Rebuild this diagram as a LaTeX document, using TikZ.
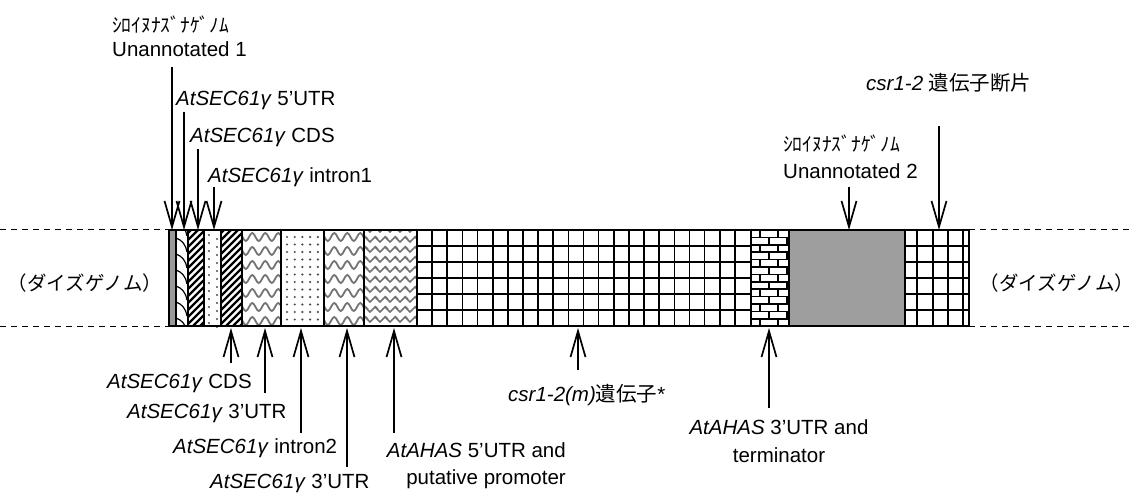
\documentclass[tikz,border=0pt]{standalone}
\usepackage{fontspec}
\setmainfont{Liberation Sans}
\newfontfamily\jpfont{Noto Sans CJK JP}
\usetikzlibrary{arrows.meta}

\begin{document}
\begin{tikzpicture}[x=1pt, y=-1pt,
  font=\fontsize{20.5}{24}\selectfont,
  lbl/.style={inner sep=0pt, anchor=west},
  arr/.style={-{Straight Barb[length=26pt, width=15pt]}, line width=1.7pt},
  segline/.style={line width=2.2pt},
  gridline/.style={line width=1.6pt},
  wave/.style={draw=black!55, line width=1.8pt},
  genome/.style={dashed, dash pattern=on 6pt off 5pt, line width=1pt}
]
\useasboundingbox (0,0) rectangle (1134,494);

% host genome flanks
\draw[genome] (0,230) -- (169,230);
\draw[genome] (0,326) -- (169,326);
\draw[genome] (969,230) -- (1134,230);
\draw[genome] (969,326) -- (1134,326);
\node[inner sep=0pt, font=\jpfont\fontsize{19.5}{22}\selectfont] (soyL) at (85,283) {（ダイズゲノム）};
\node[inner sep=0pt, font=\jpfont\fontsize{19.5}{22}\selectfont] (soyR) at (1057,283) {（ダイズゲノム）};

% segment fills
\fill[black!40] (169,230) rectangle (176,326);
\begin{scope}
  \clip (176,230) rectangle (188,326);
  \foreach \y in {222,238,...,326}
    \draw[line width=1.2pt] (176,\y) .. controls (182,\y+2) and (186,\y+7) .. (187,\y+14);
\end{scope}
\begin{scope}
  \clip (188,230) rectangle (204,326);
  \foreach \k in {0,...,18}
    \draw[line width=2.3pt] (88+\k*7,326) -- ++(100,-100);
\end{scope}
\foreach \y in {235,243,...,323} {
  \fill[black!70] (209,\y) circle (1.2);
  \fill[black!70] (217,\y+4) circle (1.2);
}
\begin{scope}
  \clip (221,230) rectangle (242,326);
  \foreach \k in {0,...,20}
    \draw[line width=2.3pt] (121+\k*7,326) -- ++(100,-100);
\end{scope}
\begin{scope}
  \clip (242,230) rectangle (281,326);
  \foreach \y in {237,251,...,326}
    \draw[wave] (236,\y) \foreach \i in {1,...,4} { sin ++(3.25,-4) cos ++(3.25,4) sin ++(3.25,4) cos ++(3.25,-4) };
\end{scope}
\foreach \x in {287,294.7,...,320}
  \foreach \y in {237,244.5,...,324}
    \fill[black!70] (\x,\y) circle (1.2);
\begin{scope}
  \clip (324,230) rectangle (364,326);
  \foreach \y in {237,251,...,326}
    \draw[wave] (318,\y) \foreach \i in {1,...,4} { sin ++(3.25,-4) cos ++(3.25,4) sin ++(3.25,4) cos ++(3.25,-4) };
\end{scope}
\begin{scope}
  \clip (364,230) rectangle (417,326);
  \foreach \y in {232,242,...,332}
    \draw[black!55, line width=1.6pt] (360,\y) \foreach \i in {1,...,6} { -- ++(5,-5) -- ++(5,5) };
  \foreach \y in {236,246,...,332}
    \draw[black!55, line width=1.2pt] (365,\y) \foreach \i in {1,...,6} { -- ++(3,3) ++(7,-3) };
\end{scope}
\foreach \i in {1,...,21}
  \draw[gridline] (417+\i*15.14,230) -- (417+\i*15.14,326);
\foreach \j in {1,...,5}
  \draw[gridline] (417,230+\j*16) -- (751,230+\j*16);
\begin{scope}
  \clip (751,230) rectangle (789,326);
  \foreach \j in {1,...,12}
    \draw[gridline] (751,230+\j*7.4) -- (789,230+\j*7.4);
  \foreach \j in {0,2,...,12} {
    \draw[gridline] (760,230+\j*7.4) -- ++(0,7.4);
    \draw[gridline] (778,230+\j*7.4) -- ++(0,7.4);
  }
  \foreach \j in {1,3,...,11} {
    \draw[gridline] (769,230+\j*7.4) -- ++(0,7.4);
    \draw[gridline] (787,230+\j*7.4) -- ++(0,7.4);
  }
\end{scope}
\fill[black!38] (789,230) rectangle (905,326);
\foreach \x in {917,933,948,963}
  \draw[gridline] (\x,230) -- (\x,326);
\foreach \j in {1,...,5}
  \draw[gridline] (905,230+\j*16) -- (969,230+\j*16);

% segment borders
\foreach \x in {176,188,204,221,242,281,324,364,417,751,789,905}
  \draw[segline] (\x,230) -- (\x,326);
\draw[segline] (169,230) rectangle (969,326);

% labels above
\node[lbl, font=\jpfont\fontsize{19.5}{22}\selectfont] (kanaA) at (112,25) {ｼﾛｲﾇﾅｽﾞﾅｹﾞﾉﾑ};
\node[lbl] (unA) at (112,49) {Unannotated 1};
\node[lbl] (utr5) at (176,100) {\textit{AtSEC61γ} 5’UTR};
\node[lbl] (cdsA) at (190,137) {\textit{AtSEC61γ} CDS};
\node[lbl] (int1) at (208,177) {\textit{AtSEC61γ} intron1};
\node[lbl, align=left, font=\fontsize{20.5}{27}\selectfont] (unB) at (783,157)
  {{\jpfont\fontsize{19.5}{22}\selectfont ｼﾛｲﾇﾅｽﾞﾅｹﾞﾉﾑ}\\Unannotated 2};
\node[lbl] (frag) at (866,83) {\textit{csr1-2} {\jpfont 遺伝子断片}};

% labels below
\node[lbl] (cdsB) at (107,383) {\textit{AtSEC61γ} CDS};
\node[lbl] (utr3A) at (127,413) {\textit{AtSEC61γ} 3’UTR};
\node[lbl] (int2) at (173,448) {\textit{AtSEC61γ} intron2};
\node[lbl] (utr3B) at (210,483) {\textit{AtSEC61γ} 3’UTR};
\node[inner sep=0pt, anchor=east, align=right, font=\fontsize{20.5}{27}\selectfont] (prom) at (566,466)
  {\textit{AtAHAS} 5’UTR and\\putative promoter};
\node[lbl] (csr) at (508,395) {\textit{csr1-2(m)}{\jpfont 遺伝子}*};
\node[inner sep=0pt, align=center, font=\fontsize{20.5}{28}\selectfont] (term) at (779,441)
  {\textit{AtAHAS} 3’UTR and\\terminator};

% arrow ends
\coordinate (tUnA) at (172,67);   \coordinate (hUnA) at (172,230);
\coordinate (tUtr5) at (184,112); \coordinate (hUtr5) at (184,230);
\coordinate (tCdsA) at (198,149); \coordinate (hCdsA) at (198,230);
\coordinate (tInt1) at (214,187); \coordinate (hInt1) at (214,230);
\coordinate (tUnB) at (849,187);  \coordinate (hUnB) at (849,230);
\coordinate (tFrag) at (939,126); \coordinate (hFrag) at (939,230);
\coordinate (tCdsB) at (231,363); \coordinate (hCdsB) at (231,328);
\coordinate (tUtr3A) at (265,393); \coordinate (hUtr3A) at (265,328);
\coordinate (tInt2) at (301,433); \coordinate (hInt2) at (301,328);
\coordinate (tUtr3B) at (347,467); \coordinate (hUtr3B) at (347,328);
\coordinate (tProm) at (394,433); \coordinate (hProm) at (394,328);
\coordinate (tCsr) at (578,370);  \coordinate (hCsr) at (578,328);
\coordinate (tTerm) at (769,408); \coordinate (hTerm) at (769,328);

\draw[arr] (tUnA) -- (hUnA);
\draw[arr] (tUtr5) -- (hUtr5);
\draw[arr] (tCdsA) -- (hCdsA);
\draw[arr] (tInt1) -- (hInt1);
\draw[arr] (tUnB) -- (hUnB);
\draw[arr] (tFrag) -- (hFrag);
\draw[arr] (tCdsB) -- (hCdsB);
\draw[arr] (tUtr3A) -- (hUtr3A);
\draw[arr] (tInt2) -- (hInt2);
\draw[arr] (tUtr3B) -- (hUtr3B);
\draw[arr] (tProm) -- (hProm);
\draw[arr] (tCsr) -- (hCsr);
\draw[arr] (tTerm) -- (hTerm);
\end{tikzpicture}
\end{document}
